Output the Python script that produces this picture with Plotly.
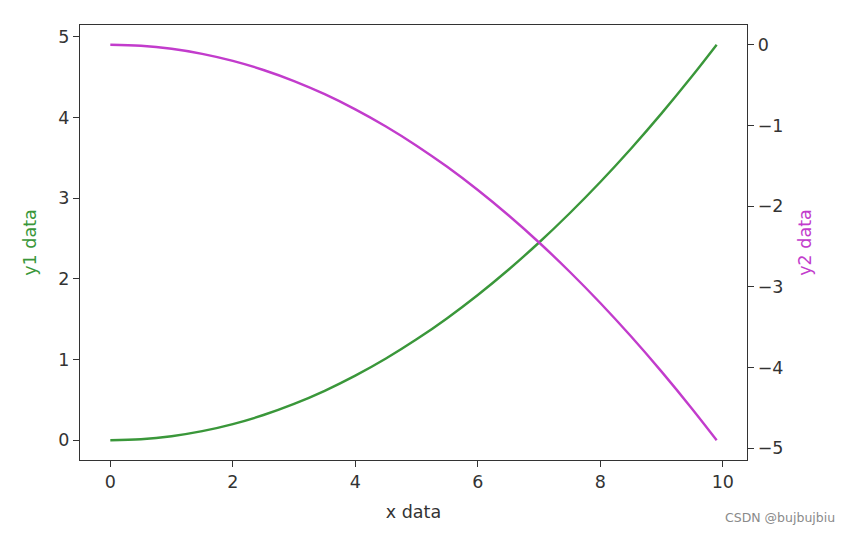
import plotly.graph_objects as go

x_vals = [0, 0.5, 1, 1.5, 2, 2.5, 3, 3.5, 4, 4.5, 5, 5.5, 6, 6.5, 7, 7.5, 8, 8.5, 9, 9.5, 9.9]
y1_vals = [0, 0.0125, 0.05, 0.1125, 0.2, 0.3125, 0.45, 0.6125, 0.8, 1.0125, 1.25,
           1.5125, 1.8, 2.1125, 2.45, 2.8125, 3.2, 3.6125, 4.05, 4.5125, 4.9005]
y2_vals = [-v for v in y1_vals]

x_ticks = [0, 2, 4, 6, 8, 10]
y1_ticks = [0, 1, 2, 3, 4, 5]
y2_ticks = [0, -1, -2, -3, -4, -5]
y2_tick_text = ["0", "−1", "−2", "−3", "−4", "−5"]

GREEN = "#3a973a"
MAGENTA = "#c23ccc"
TXT = "#333333"
FONT = "DejaVu Sans"
FS = 17.5

fig = go.Figure()
fig.add_trace(go.Scatter(x=x_vals, y=y1_vals, mode="lines", line=dict(color=GREEN, width=2.4, shape="spline"),
                         yaxis="y", showlegend=False))
fig.add_trace(go.Scatter(x=x_vals, y=y2_vals, mode="lines", line=dict(color=MAGENTA, width=2.4, shape="spline"),
                         yaxis="y2", showlegend=False))

axis_common = dict(showgrid=False, zeroline=False, showline=True, linecolor="#333333", linewidth=1.4,
                   ticks="outside", ticklen=6, tickwidth=1.3, tickcolor="#333333",
                   tickfont=dict(family=FONT, size=FS, color=TXT))

fig.update_layout(
    width=852, height=534,
    margin=dict(l=72, r=113, t=17, b=82),
    paper_bgcolor="white", plot_bgcolor="white",
    font=dict(family=FONT, size=FS, color=TXT),
    xaxis=dict(range=[-0.495, 10.395], tickvals=x_ticks, mirror=True,
               title=dict(text="x data", font=dict(family=FONT, size=FS, color=TXT), standoff=14),
               **axis_common),
    yaxis=dict(range=[-0.245, 5.145], tickvals=y1_ticks,
               title=dict(text="y1 data", font=dict(family=FONT, size=FS, color=GREEN), standoff=17),
               **axis_common),
    yaxis2=dict(range=[-5.145, 0.245], tickvals=y2_ticks, ticktext=y2_tick_text,
                overlaying="y", side="right",
                title=dict(text="y2 data", font=dict(family=FONT, size=FS, color=MAGENTA), standoff=16),
                **axis_common),
    annotations=[dict(text="CSDN @bujbujbiu", xref="paper", yref="paper", x=1.135, y=-0.133,
                      xanchor="right", yanchor="middle", showarrow=False,
                      font=dict(family=FONT, size=12.5, color="#8a8a8a"))],
)

fig.write_html("out.html")
